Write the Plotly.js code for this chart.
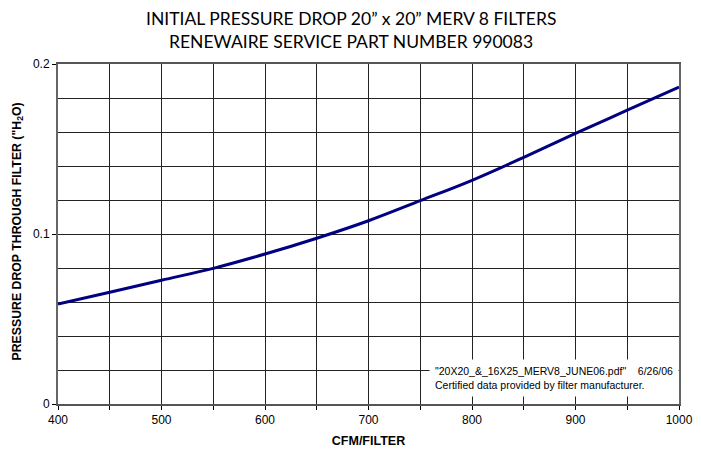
<!DOCTYPE html>
<html>
<head>
<meta charset="utf-8">
<script src="https://cdn.plot.ly/plotly-3.0.1.min.js"></script>
<style>html,body{margin:0;padding:0;background:#fff;}#chart{width:702px;height:452px;}</style>
</head>
<body>
<div id="chart"></div>
<script>
var cfm = [400, 450, 500, 550, 600, 650, 700, 750, 800, 850, 900, 950, 1000];
var pressureDrop = [0.0588, 0.0657, 0.0728, 0.0798, 0.0882, 0.0975, 0.1078, 0.1196, 0.1316, 0.1451, 0.1592, 0.1728, 0.1864];
var xTickVals = [400, 500, 600, 700, 800, 900, 1000];
var yTickVals = [0, 0.1, 0.2];
var yTickText = ['0', '0.1', '0.2'];
var titleLines = ['INITIAL PRESSURE DROP 20\u201D x 20\u201D MERV 8 FILTERS', 'RENEWAIRE SERVICE PART NUMBER 990083'];
var yTitle = '<b>PRESSURE DROP THROUGH FILTER ("H<sub>2</sub>O)</b>';
var xTitle = '<b>CFM/FILTER</b>';
var noteLines = ['"20X20_&_16X25_MERV8_JUNE06.pdf"    6/26/06', 'Certified data provided by filter manufacturer.'];

var data = [{
  x: cfm, y: pressureDrop, type: 'scatter', mode: 'lines',
  line: {color: '#000080', width: 3, shape: 'spline'},
  hoverinfo: 'skip', showlegend: false
}];

var titleFont = {family: 'Lato, sans-serif', size: 17.5, color: '#000'};

var layout = {
  width: 702, height: 452,
  margin: {l: 58, r: 23, t: 64, b: 48},
  paper_bgcolor: '#fff', plot_bgcolor: '#fff',
  font: {family: 'Liberation Sans, Arial, sans-serif', size: 12, color: '#000'},
  xaxis: {
    range: [400, 1000], tickvals: xTickVals, ticks: 'outside', ticklen: 4, tickcolor: '#000',
    showgrid: true, gridcolor: '#222', gridwidth: 1,
    minor: {dtick: 50, tick0: 0, showgrid: true, gridcolor: '#222', gridwidth: 1, ticks: 'outside', ticklen: 4, tickcolor: '#000'},
    showline: true, linecolor: '#555', linewidth: 2, mirror: true,
    zeroline: false, tickfont: {size: 12},
    title: {text: xTitle, font: {size: 12.5}, standoff: 10}
  },
  yaxis: {
    range: [0, 0.2], tickvals: yTickVals, ticktext: yTickText, ticks: 'outside', ticklen: 4, tickcolor: '#000',
    showgrid: true, gridcolor: '#222', gridwidth: 1,
    minor: {dtick: 0.02, tick0: 0, showgrid: true, gridcolor: '#222', gridwidth: 1},
    showline: true, linecolor: '#666', linewidth: 2, mirror: true,
    zeroline: false, tickfont: {size: 12}
  },
  annotations: [{
    xref: 'paper', yref: 'paper', x: 0.472, y: 1.135, xanchor: 'center', yanchor: 'middle',
    text: titleLines[0], showarrow: false, font: titleFont
  }, {
    xref: 'paper', yref: 'paper', x: 0.472, y: 1.065, xanchor: 'center', yanchor: 'middle',
    text: titleLines[1], showarrow: false, font: titleFont
  }, {
    xref: 'paper', yref: 'paper', x: 0.597, y: 0.022, xanchor: 'left', yanchor: 'bottom',
    text: noteLines.join('<br>'), align: 'left', showarrow: false,
    bgcolor: '#fff', borderpad: 5,
    font: {size: 10.5, color: '#000'}
  }, {
    xref: 'paper', yref: 'paper', x: -0.049, y: 0.506, xanchor: 'right', yanchor: 'middle',
    text: yTitle, textangle: -90, showarrow: false,
    font: {size: 12.3, color: '#000'}
  }]
};

Plotly.newPlot('chart', data, layout, {displayModeBar: false, staticPlot: true});
</script>
</body>
</html>
